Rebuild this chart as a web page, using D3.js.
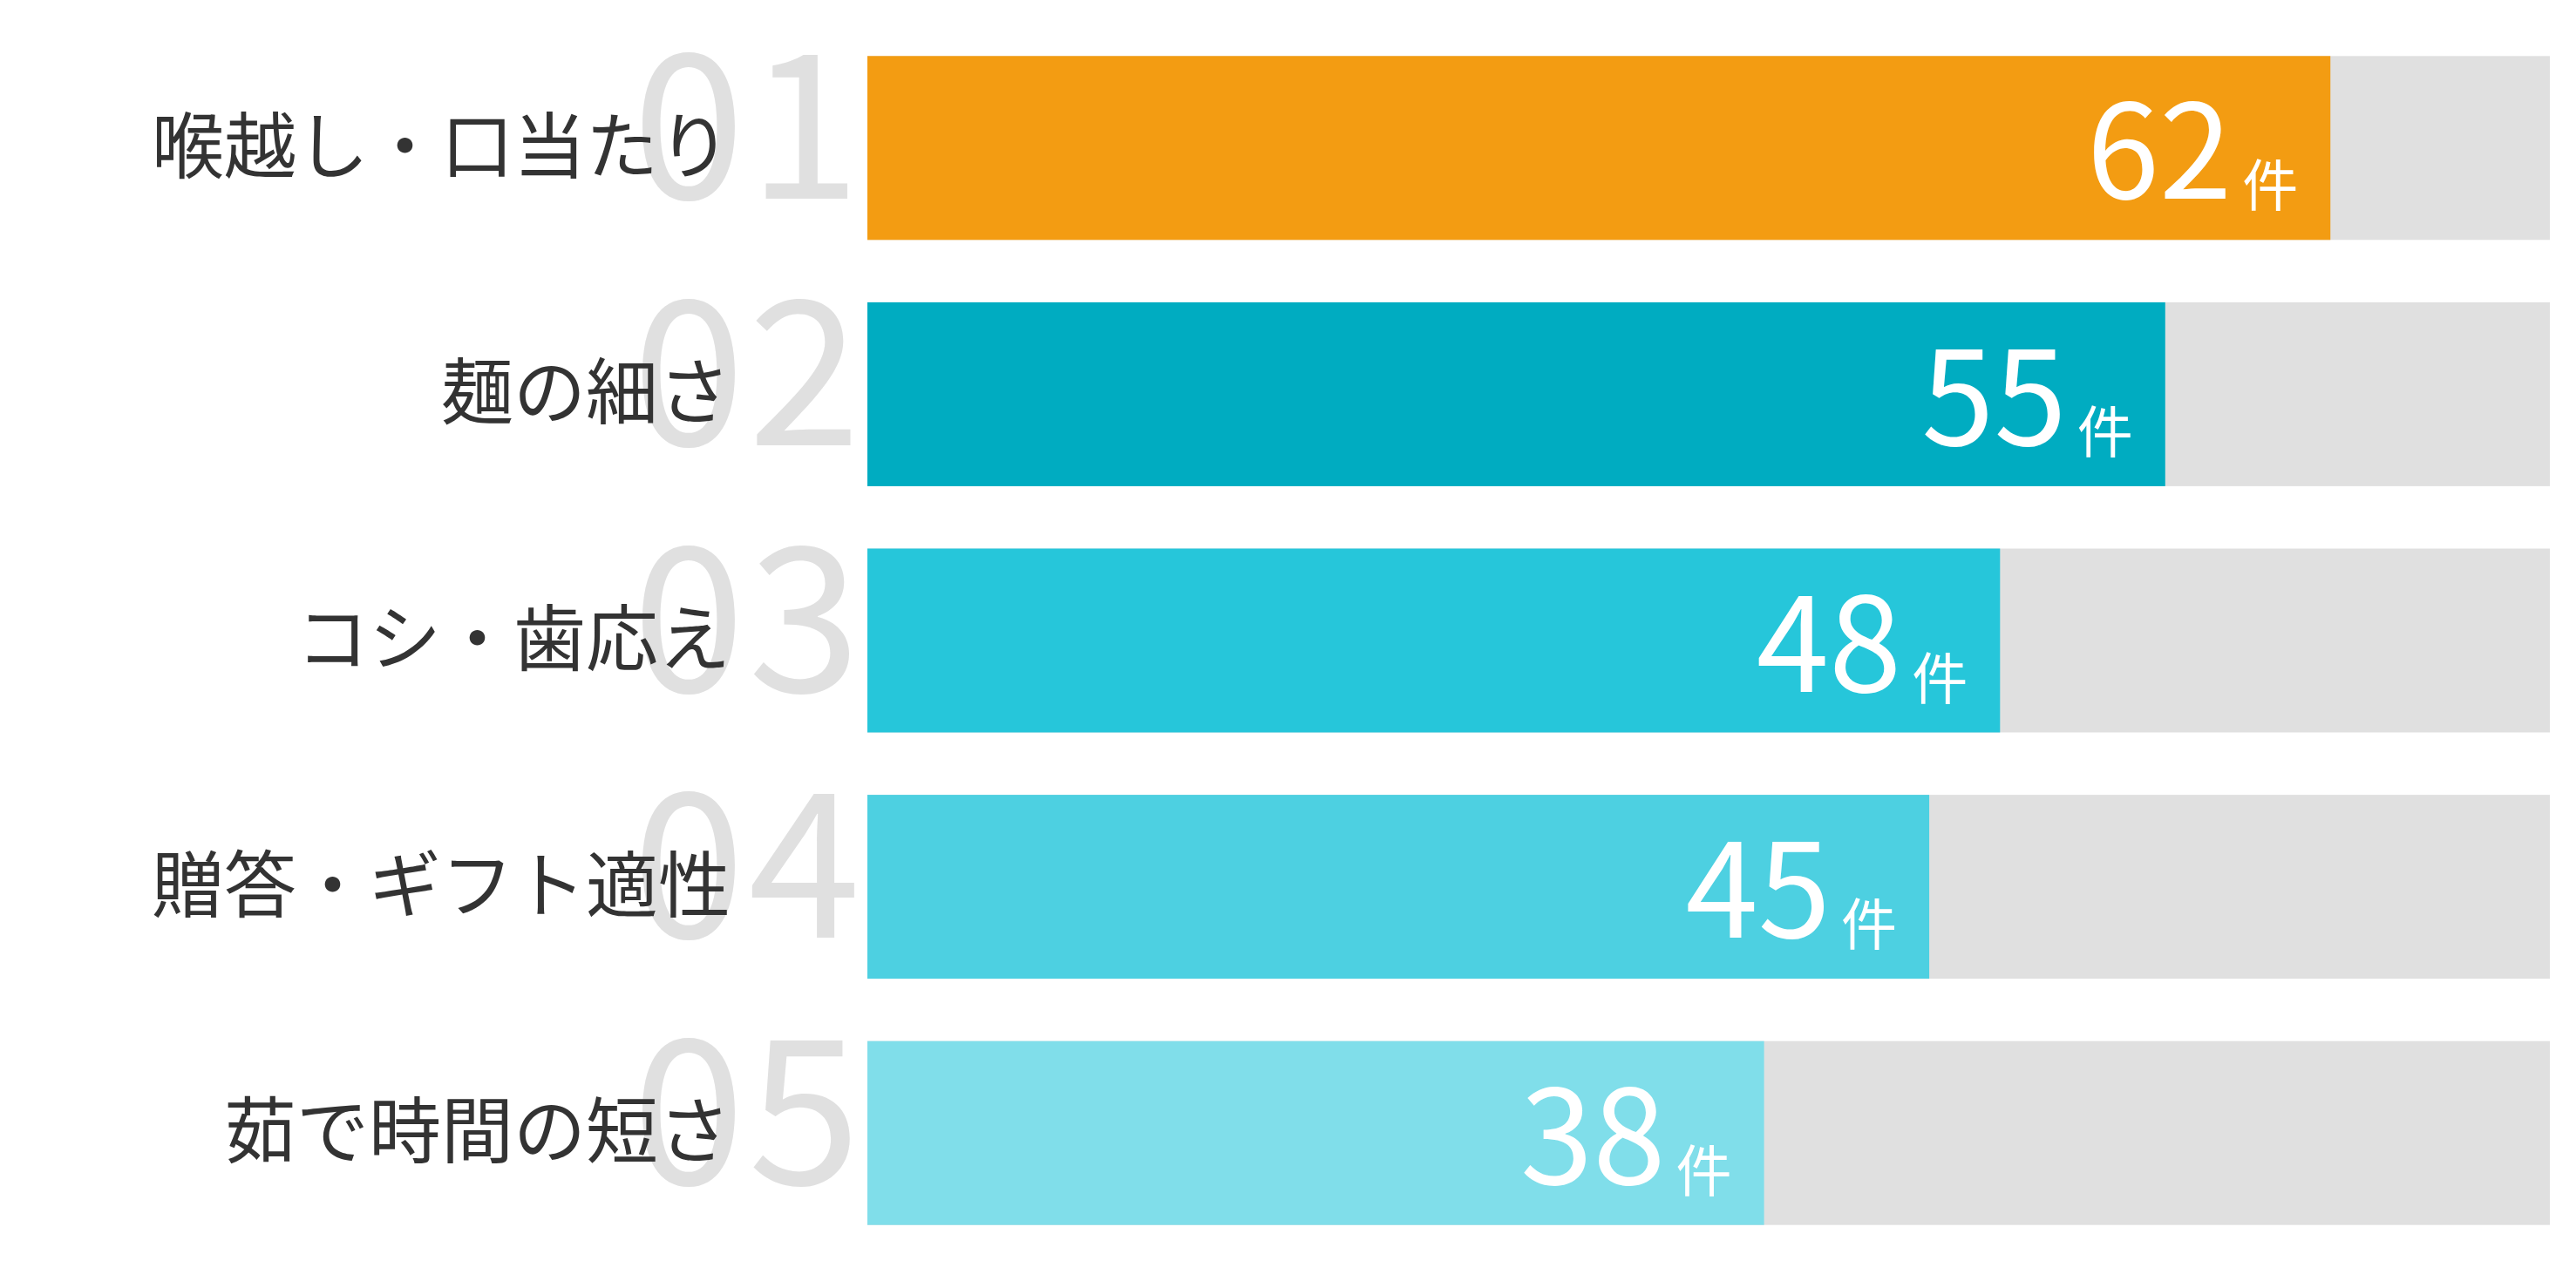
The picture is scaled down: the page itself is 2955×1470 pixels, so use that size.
<!DOCTYPE html>
<html>
<head>
<meta charset="utf-8">
<script src="https://cdn.jsdelivr.net/npm/d3@7"></script>
<style>
  html, body { margin: 0; padding: 0; background: #fff; }
  svg { display: block; }
  .rank { font-family: "Noto Sans CJK JP", "Noto Sans", sans-serif; font-weight: 400; fill: #e0e0e0; }
  .label { font-family: "Noto Sans CJK JP", sans-serif; font-weight: 400; fill: #333; }
  .value { font-family: "Noto Sans CJK JP", "Noto Sans", sans-serif; font-weight: 400; fill: #fff; }
</style>
</head>
<body>
<svg class="chart"></svg>
<script>
// data
const categories = ['喉越し・口当たり', '麺の細さ', 'コシ・歯応え', '贈答・ギフト適性', '茹で時間の短さ']
const ranks = ['01', '02', '03', '04', '05']
const counts = [62, 55, 48, 45, 38]
const colors = ['#f39c12', '#00acc1', '#26c6da', '#4dd0e1', '#80deea']
const unit = '件'

const width = 2955
const height = 1470
const x0 = 995
const x1 = 2925

const svg = d3.select('.chart')
    .attr('width', width)
    .attr('height', height)

const x = d3.scaleLinear()
    .domain([0, d3.max(counts) * 1.15])
    .range([x0, x1])

const y = d3.scaleBand()
    .domain(categories)
    .range([0, height])
    .paddingInner(0.2534)
    .paddingOuter(0.2275)

const rows = svg.selectAll('.row')
    .data(categories.map((c, i) => ({ cat: c, rank: ranks[i], n: counts[i], color: colors[i] })))
    .enter()
    .append('g')
    .attr('class', 'row')

// grey track
rows.append('rect')
    .attr('x', x(0))
    .attr('y', d => y(d.cat))
    .attr('width', x.range()[1] - x(0))
    .attr('height', y.bandwidth())
    .attr('fill', '#e0e0e0')

// big rank number behind the label
rows.append('text')
    .attr('class', 'rank')
    .attr('x', x(0) - 4)
    .attr('y', d => y(d.cat) + 164)
    .attr('text-anchor', 'end')
    .style('font-size', '232px')
    .style('letter-spacing', '4px')
    .text(d => d.rank)

rows.append('text')
    .attr('class', 'label')
    .attr('x', 838)
    .attr('y', d => y(d.cat) + y.bandwidth() / 2 - 8)
    .attr('dominant-baseline', 'central')
    .attr('text-anchor', 'end')
    .style('font-size', '83px')
    .text(d => d.cat)

// value bar
rows.append('rect')
    .attr('x', x(0))
    .attr('y', d => y(d.cat))
    .attr('width', d => x(d.n) - x(0))
    .attr('height', y.bandwidth())
    .attr('fill', d => d.color)

const val = rows.append('text')
    .attr('class', 'value')
    .attr('x', d => x(d.n) - 37)
    .attr('y', d => y(d.cat) + 164)
    .attr('text-anchor', 'end')

val.append('tspan')
    .style('font-size', '150px')
    .text(d => d.n)

val.append('tspan')
    .attr('dx', 12)
    .attr('dy', 8)
    .style('font-size', '64px')
    .text(unit)
</script>
</body>
</html>
